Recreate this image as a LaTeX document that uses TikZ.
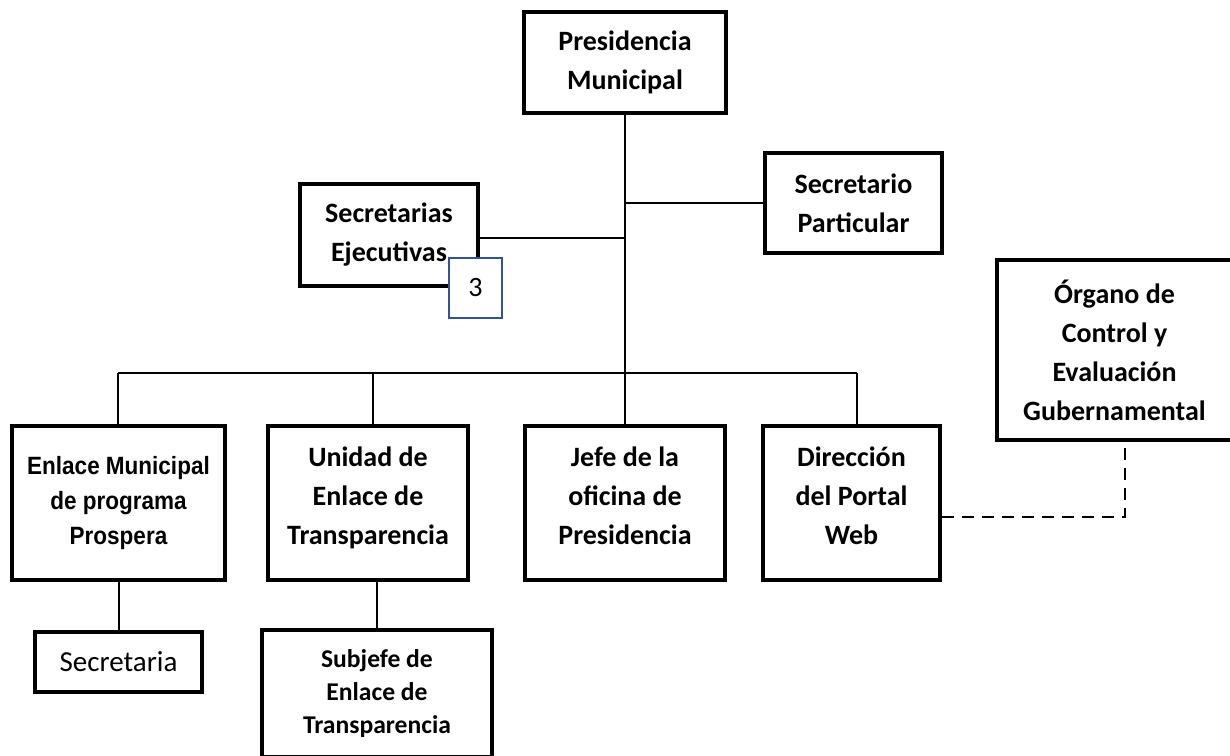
\documentclass[tikz,border=0pt]{standalone}
\usepackage{fontspec}
\setmainfont{Carlito}
\newfontfamily\arialfont[FakeStretch=0.9]{Liberation Sans}
\usepackage{xcolor}
\definecolor{BoxBlue}{RGB}{47,85,151}
\usepackage{tikz}
\usetikzlibrary{positioning}
\tikzstyle{Box}=[draw,line width=1.75pt,fill=white,align=center,inner sep=0pt,
font=\bfseries\fontsize{14}{19.5}\selectfont]
\tikzstyle{BoxLow}=[Box,text depth=7pt]
\tikzstyle{BoxSmall}=[Box,font=\bfseries\fontsize{12.8}{16.5}\selectfont]
\tikzstyle{BoxArial}=[Box,font=\arialfont\bfseries\fontsize{12.5}{17.5}\selectfont]
\tikzstyle{BoxPlain}=[Box,font=\fontsize{14.5}{17}\selectfont]
\tikzstyle{Count}=[draw=BoxBlue,line width=1.3pt,fill=white,inner sep=0pt,
minimum width=26.5pt,minimum height=30pt,font=\fontsize{14}{17}\selectfont]
\tikzstyle{Edge}=[line width=1pt]
\tikzstyle{EdgeDash}=[line width=1pt,dash pattern=on 6pt off 4pt]

\begin{document}
\begin{tikzpicture}[x=0.5pt,y=-0.5pt]
        \useasboundingbox (0,0) rectangle (1230,755);
        % top level
        \node[Box,minimum width=101pt,minimum height=50.5pt](pres)at(625,62.5)
            {Presidencia\\Municipal};
        \node[Box,minimum width=88.5pt,minimum height=50pt](secp)at(853.5,203)
            {Secretario\\Particular};
        \node[Box,minimum width=89pt,minimum height=51pt](sece)at(389,235)
            {Secretarias\\Ejecutivas};
        \node[Count](tres)at(475.5,288){3};
        \node[Box,minimum width=117.5pt,minimum height=90pt](org)at(1114.5,350)
            {Órgano de\\Control y\\Evaluación\\Gubernamental};
        % second level
        \node[BoxArial,minimum width=106.5pt,minimum height=77pt](enl)at(118.5,503)
            {Enlace Municipal\\de programa\\Prospera};
        \node[BoxLow,minimum width=100pt,minimum height=77pt](uni)at(368,503)
            {Unidad de\\Enlace de\\Transparencia};
        \node[BoxLow,minimum width=100pt,minimum height=77pt](jefe)at(625,503)
            {Jefe de la\\oficina de\\Presidencia};
        \node[BoxLow,minimum width=88.5pt,minimum height=77pt](dir)at(851.5,503)
            {Dirección\\del Portal\\Web};
        % third level
        \node[BoxPlain,minimum width=83.5pt,minimum height=30pt](secr)at(118.5,662)
            {Secretaria};
        \node[BoxSmall,minimum width=115pt,minimum height=63.5pt](subj)at(377,693.5)
            {Subjefe de\\Enlace de\\Transparencia};
        % connectors
        \coordinate(bus)at(625,373);
        \coordinate(b1)at(118,373);
        \coordinate(b2)at(373,373);
        \coordinate(b4)at(857,373);
        \coordinate(jp)at(625,203);
        \coordinate(je)at(625,238);
        \coordinate(dk)at(1125,517);
        \draw[Edge](pres.south)--(bus);
        \draw[Edge](b1)--(b4);
        \draw[Edge](jp)--(secp.west);
        \draw[Edge](sece.east|-je)--(je);
        \draw[Edge](b1)--(b1|-enl.north);
        \draw[Edge](b2)--(b2|-uni.north);
        \draw[Edge](bus)--(jefe.north);
        \draw[Edge](b4)--(b4|-dir.north);
        \draw[Edge](enl.south-|secr.north)--(secr.north);
        \draw[Edge](uni.south-|subj.north)--(subj.north);
        \draw[EdgeDash](dir.east|-dk)--(dk)--(dk|-org.south);
    \end{tikzpicture}
\end{document}
